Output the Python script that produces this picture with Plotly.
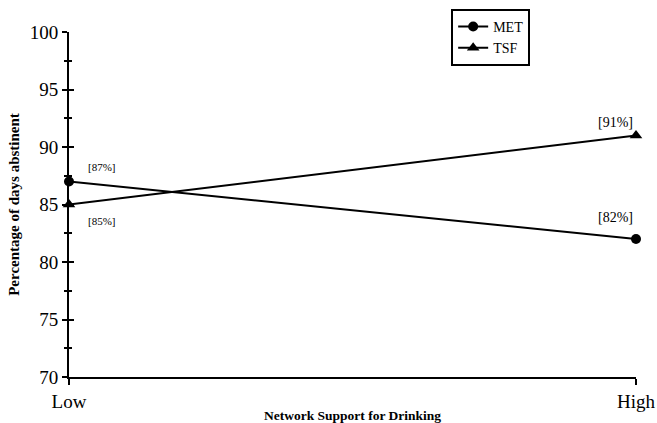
import plotly.graph_objects as go

categories = ["Low", "High"]
x_pos = [0, 1]
met = [87, 82]
tsf = [85, 91]
met_labels = ["[87%]", "[82%]"]
tsf_labels = ["[85%]", "[91%]"]

font_family = "Liberation Serif, Times New Roman, serif"

fig = go.Figure()
fig.add_trace(go.Scatter(x=x_pos, y=met, mode="lines+markers", name="MET",
                         line=dict(color="black", width=2),
                         marker=dict(symbol="circle", size=10, color="black"),
                         cliponaxis=False))
fig.add_trace(go.Scatter(x=x_pos, y=tsf, mode="lines+markers", name="TSF",
                         line=dict(color="black", width=2),
                         marker=dict(symbol="triangle-up", size=11, color="black"),
                         cliponaxis=False))

# value labels
fig.add_annotation(x=x_pos[0], y=met[0], text=met_labels[0], showarrow=False,
                   xshift=33, yshift=15, font=dict(size=11, family=font_family, color="black"))
fig.add_annotation(x=x_pos[0], y=tsf[0], text=tsf_labels[0], showarrow=False,
                   xshift=33, yshift=-16, font=dict(size=11, family=font_family, color="black"))
fig.add_annotation(x=x_pos[1], y=tsf[1], text=tsf_labels[1], showarrow=False,
                   xshift=-21, yshift=13, font=dict(size=14, family=font_family, color="black"))
fig.add_annotation(x=x_pos[1], y=met[1], text=met_labels[1], showarrow=False,
                   xshift=-21, yshift=22, font=dict(size=14, family=font_family, color="black"))

fig.update_layout(
    width=657, height=423,
    margin=dict(l=69, r=21, t=32, b=46, autoexpand=False),
    paper_bgcolor="white", plot_bgcolor="white",
    font=dict(family=font_family, color="black"),
    showlegend=True,
    legend=dict(x=0.674, y=1.067, xanchor="left", yanchor="top",
                bordercolor="black", borderwidth=2, bgcolor="white",
                font=dict(size=14, family=font_family, color="black"),
                tracegroupgap=0, itemwidth=30),
    xaxis=dict(range=[0, 1], tickvals=x_pos, ticktext=categories, automargin=False,
               showgrid=False, zeroline=False, showline=True, linecolor="black", linewidth=2,
               ticks="outside", ticklen=6, tickwidth=2, tickcolor="black",
               tickfont=dict(size=19, family=font_family),
               title=dict(text="<b>Network Support for Drinking</b>", font=dict(size=13.5, family=font_family),
                          standoff=0)),
    yaxis=dict(range=[70, 100], tickvals=[70, 75, 80, 85, 90, 95, 100], automargin=False,
               showgrid=False, zeroline=False, showline=True, linecolor="black", linewidth=2,
               ticks="outside", ticklen=5, tickwidth=2, tickcolor="black",
               tickfont=dict(size=19, family=font_family),
               minor=dict(dtick=2.5, ticks="outside", ticklen=3, tickwidth=1.5, tickcolor="black"),
               title=dict(text="<b>Percentage of days abstinent</b>", font=dict(size=15, family=font_family),
                          standoff=6)),
    yaxis2=dict(range=[70, 100], overlaying="y", side="left", anchor="x", automargin=False,
                tickvals=[70, 75, 80, 85, 90, 95, 100], showticklabels=False,
                ticks="inside", ticklen=5, tickwidth=2, tickcolor="black",
                minor=dict(dtick=2.5, ticks="inside", ticklen=3, tickwidth=1.5, tickcolor="black"),
                showgrid=False, zeroline=False, showline=False),
)
# invisible trace to activate yaxis2
fig.add_trace(go.Scatter(x=[None], y=[None], yaxis="y2", showlegend=False, hoverinfo="skip"))

fig.write_html("out.html", config={"displayModeBar": False},
               post_script="document.body.style.margin='0';document.body.style.overflow='hidden';")
